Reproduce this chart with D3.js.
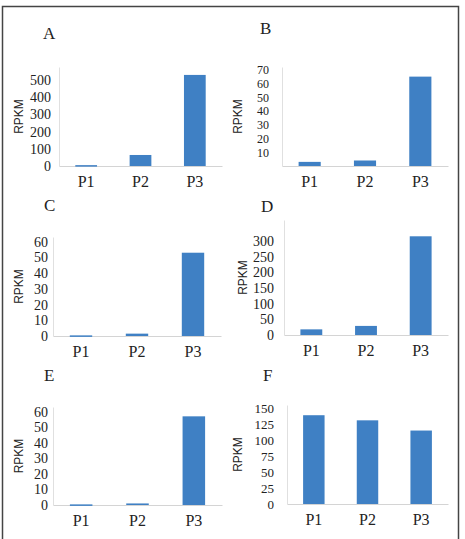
<!DOCTYPE html>
<html>
<head>
<meta charset="utf-8">
<title>RPKM panels</title>
<style>
  body { margin: 0; background: #fff; }
  svg { display: block; }
</style>
</head>
<body>
<svg width="465" height="539"></svg>
<script src="https://cdnjs.cloudflare.com/ajax/libs/d3/7.8.5/d3.min.js"></script>
<script>

var samples = ["P1", "P2", "P3"];

var valuesA = [5, 64, 529];
var valuesB = [3, 4, 65];
var valuesC = [0.4, 1.5, 53];
var valuesD = [18, 29, 315];
var valuesE = [0.4, 1, 57];
var valuesF = [139, 131, 115];

var ticksA = [0, 100, 200, 300, 400, 500];
var ticksB = [10, 20, 30, 40, 50, 60, 70];
var ticksC = [0, 10, 20, 30, 40, 50, 60];
var ticksD = [0, 50, 100, 150, 200, 250, 300];
var ticksE = [0, 10, 20, 30, 40, 50, 60];
var ticksF = [0, 25, 50, 75, 100, 125, 150];

var panels = [
  {name: "A", values: valuesA, ticks: ticksA, max: 575, x0: 59, x1: 222, top: 67, base: 166, lx: 43, ly: 39, ylx: 19, pad: 8, fs: 14},
  {name: "B", values: valuesB, ticks: ticksB, max: 72, x0: 282, x1: 448, top: 67, base: 166, lx: 260, ly: 34, ylx: 238, pad: 13, fs: 12},
  {name: "C", values: valuesC, ticks: ticksC, max: 63, x0: 53, x1: 221, top: 237, base: 336, lx: 44, ly: 211, ylx: 19, pad: 5, fs: 14},
  {name: "D", values: valuesD, ticks: ticksD, max: 367, x0: 284, x1: 448, top: 220, base: 335, lx: 261, ly: 212, ylx: 243, pad: 10, fs: 14},
  {name: "E", values: valuesE, ticks: ticksE, max: 63, x0: 53, x1: 222, top: 407, base: 505, lx: 44, ly: 381, ylx: 19, pad: 5, fs: 14},
  {name: "F", values: valuesF, ticks: ticksF, max: 155, x0: 287, x1: 448, top: 405, base: 504, lx: 263, ly: 381, ylx: 238, pad: 13, fs: 13}
];

var svg = d3.select("svg");

// outer frame
svg.append("rect")
    .attr("x", 2.5).attr("y", 6.5)
    .attr("width", 456).attr("height", 540)
    .attr("fill", "none")
    .attr("stroke", "#444")
    .attr("stroke-width", 1.5);

panels.forEach(function(p) {
  var g = svg.append("g");

  var x = d3.scaleBand()
      .domain(samples)
      .range([p.x0, p.x1])
      .paddingInner(0.6)
      .paddingOuter(0.3);

  var y = d3.scaleLinear()
      .domain([0, p.max])
      .range([p.base, p.top]);

  var xAxis = g.append("g")
      .attr("transform", "translate(0," + p.base + ")")
      .call(d3.axisBottom(x).tickSize(0).tickSizeOuter(0).tickPadding(10));
  xAxis.select(".domain").attr("stroke", "#d4d4d4");
  xAxis.selectAll("text")
      .attr("font-family", "Liberation Serif, serif")
      .attr("font-size", 16)
      .attr("fill", "#222");

  var yAxis = g.append("g")
      .attr("transform", "translate(" + p.x0 + ",0)")
      .call(d3.axisLeft(y).tickValues(p.ticks).tickSize(0).tickSizeOuter(0).tickPadding(p.pad));
  yAxis.select(".domain").attr("stroke", "#e0e0e0");
  yAxis.selectAll("text")
      .attr("font-family", "Liberation Serif, serif")
      .attr("font-size", p.fs)
      .attr("fill", "#222");

  g.selectAll("rect.bar")
      .data(p.values)
      .enter().append("rect")
      .attr("class", "bar")
      .attr("x", function(d, i) { return x(samples[i]); })
      .attr("width", x.bandwidth())
      .attr("y", function(d) { return y(d); })
      .attr("height", function(d) { return Math.max(1.5, p.base - y(d)); })
      .attr("fill", "#3f80c4");

  g.append("text")
      .attr("transform", "translate(" + p.ylx + "," + ((p.top + p.base) / 2) + ") rotate(-90)")
      .attr("text-anchor", "middle")
      .attr("dy", "0.35em")
      .attr("font-family", "Liberation Sans, sans-serif")
      .attr("font-size", 12)
      .attr("fill", "#222")
      .text("RPKM");

  g.append("text")
      .attr("x", p.lx)
      .attr("y", p.ly)
      .attr("font-family", "Liberation Serif, serif")
      .attr("font-size", 17)
      .attr("fill", "#222")
      .text(p.name);
});

</script>
</body>
</html>
